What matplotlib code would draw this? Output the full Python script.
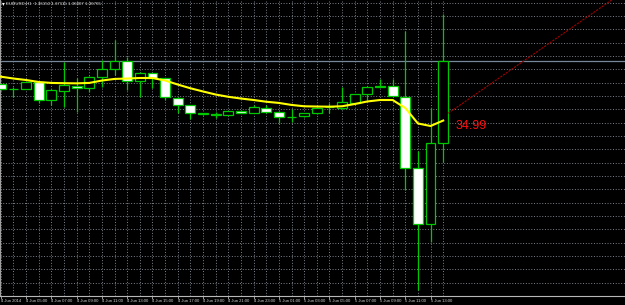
import matplotlib
matplotlib.use("Agg")
import matplotlib.pyplot as plt
from matplotlib import font_manager
from matplotlib.patches import Rectangle

# EURUSD H1, 4 Jun 03:00 .. 5 Jun 14:00
opens = [1.36588, 1.36553, 1.36550, 1.36603, 1.36470, 1.36540, 1.36575, 1.36562,
         1.36643, 1.36703, 1.36763, 1.36615, 1.36673, 1.36633, 1.36487, 1.36429,
         1.36366, 1.36361, 1.36360, 1.36385, 1.36373, 1.36412, 1.36380, 1.36339,
         1.36348, 1.36370, 1.36416, 1.36408, 1.36450, 1.36513, 1.36565, 1.36575,
         1.36495, 1.35958, 1.35538, 1.36150]
highs = [1.36598, 1.36564, 1.36605, 1.36605, 1.36549, 1.36757, 1.36633, 1.36650,
         1.36770, 1.36920, 1.36795, 1.36680, 1.36676, 1.36635, 1.36493, 1.36433,
         1.36373, 1.36382, 1.36388, 1.36388, 1.36433, 1.36433, 1.36384, 1.36400,
         1.36373, 1.36418, 1.36445, 1.36570, 1.36515, 1.36568, 1.36625, 1.36625,
         1.36988, 1.36090, 1.36410, 1.37115]
lows = [1.36545, 1.36495, 1.36549, 1.36450, 1.36433, 1.36415, 1.36382, 1.36532,
        1.36570, 1.36658, 1.36545, 1.36495, 1.36560, 1.36470, 1.36370, 1.36328,
        1.36361, 1.36333, 1.36358, 1.36373, 1.36369, 1.36376, 1.36295, 1.36307,
        1.36343, 1.36365, 1.36370, 1.36406, 1.36448, 1.36470, 1.36564, 1.36498,
        1.35795, 1.35045, 1.35408, 1.36007]
closes = [1.36553, 1.36556, 1.36603, 1.36470, 1.36545, 1.36580, 1.36562, 1.36645,
          1.36703, 1.36763, 1.36615, 1.36675, 1.36635, 1.36493, 1.36433, 1.36370,
          1.36369, 1.36364, 1.36385, 1.36375, 1.36415, 1.36380, 1.36343, 1.36341,
          1.36370, 1.36412, 1.36418, 1.36453, 1.36513, 1.36565, 1.36575, 1.36500,
          1.35958, 1.35538, 1.36150, 1.36765]
ma = [1.36645, 1.36631, 1.36620, 1.36605, 1.36598, 1.36596, 1.36595, 1.36598,
      1.36616, 1.36628, 1.36631, 1.36635, 1.36635, 1.36616, 1.36586, 1.36558,
      1.36534, 1.36511, 1.36494, 1.36481, 1.36470, 1.36457, 1.36448, 1.36433,
      1.36423, 1.36421, 1.36420, 1.36423, 1.36440, 1.36459, 1.36470, 1.36470,
      1.36410, 1.36294, 1.36275, 1.36316]

time_labels = ["4 Jun 2014", "4 Jun 05:00", "4 Jun 07:00", "4 Jun 09:00",
               "4 Jun 11:00", "4 Jun 13:00", "4 Jun 15:00", "4 Jun 17:00",
               "4 Jun 19:00", "4 Jun 21:00", "4 Jun 23:00", "5 Jun 01:00",
               "5 Jun 03:00", "5 Jun 05:00", "5 Jun 07:00", "5 Jun 09:00",
               "5 Jun 11:00", "5 Jun 13:00"]

# trendline anchors (bar index, price) and its label
trend_x = [35.4, 48.33]
trend_y = [1.36371, 1.37220]
trend_text = "34.99"
trend_text_pos = (35.99, 1.36250)

title = "EURUSD,H1  1.36150 1.37115 1.36007 1.36765"


def pick_font(name, fallback):
    try:
        font_manager.findfont(name, fallback_to_default=False)
        return name
    except ValueError:
        return fallback


narrow = pick_font("Liberation Sans Narrow", "Liberation Sans")

GREEN = "#00c800"

fig = plt.figure(figsize=(6.25, 3.05), dpi=100, facecolor="black")
ax = fig.add_axes([0, 9 / 305, 1, 296 / 305])
ax.set_facecolor("black")

n = len(opens)
idx = list(range(n))

# wicks
ax.vlines(idx, lows, highs, color=GREEN, lw=0.9, zorder=2)

# bodies
w = 0.78
for i in idx:
    o, c = opens[i], closes[i]
    face = "black" if c >= o else "white"
    ax.add_patch(Rectangle((i - w / 2, min(o, c)), w, abs(c - o),
                           facecolor=face, edgecolor=GREEN, lw=0.9, zorder=3))

# moving average
ax.plot(idx, ma, color="#ffff00", lw=1.5, zorder=4)

# bid line
ax.axhline(closes[-1], color="#77889a", lw=0.9, zorder=1)

# trendline (ray to the right)
slope = (trend_y[1] - trend_y[0]) / (trend_x[1] - trend_x[0])
x_end = 52
ax.plot([trend_x[0], x_end], [trend_y[0], trend_y[0] + slope * (x_end - trend_x[0])],
        color="#a00000", lw=0.8, ls=(0, (2, 1)), zorder=4)
ax.text(trend_text_pos[0], trend_text_pos[1], trend_text, color="#ff1010",
        fontsize=9, family=narrow, ha="left", va="baseline", zorder=5)

ax.set_xlim(-0.8 / 12.64, (625 - 0.8) / 12.64)
ax.set_ylim(1.3500, 1.37220)

# grid
ax.set_xticks(idx, minor=True)
ax.set_xticks(idx[::2])
ax.set_xticklabels(time_labels, ha="left", fontsize=3, family=narrow, color="#d8d8d8")
yt = [1.3500 + 0.001 * k for k in range(23)]
ax.set_yticks(yt)
ax.set_yticklabels([])
ax.tick_params(axis="y", length=0)
ax.tick_params(axis="x", which="major", length=2, width=0.5, color="#d8d8d8", pad=0.5)
ax.tick_params(axis="x", which="minor", length=0)
ax.grid(True, which="both", color="#7c838c", lw=0.7, ls=(0, (1, 1.8)))
ax.set_axisbelow(True)

for s in ["top", "right"]:
    ax.spines[s].set_visible(False)
ax.spines["bottom"].set_color("#b8b8b8")
ax.spines["left"].set_color("#a0a0a0")
ax.spines["bottom"].set_linewidth(0.8)
ax.spines["left"].set_linewidth(0.8)

# chart header
fig.text(3 / 625, 1 - 4 / 305, "\u25be", color="white", fontsize=4, ha="center", va="center")
fig.text(6 / 625, 1 - 1.5 / 305, title, color="#e0e0e0", fontsize=3.2, family=narrow,
         ha="left", va="top")

fig.savefig("out.png", dpi=100, facecolor="black")
